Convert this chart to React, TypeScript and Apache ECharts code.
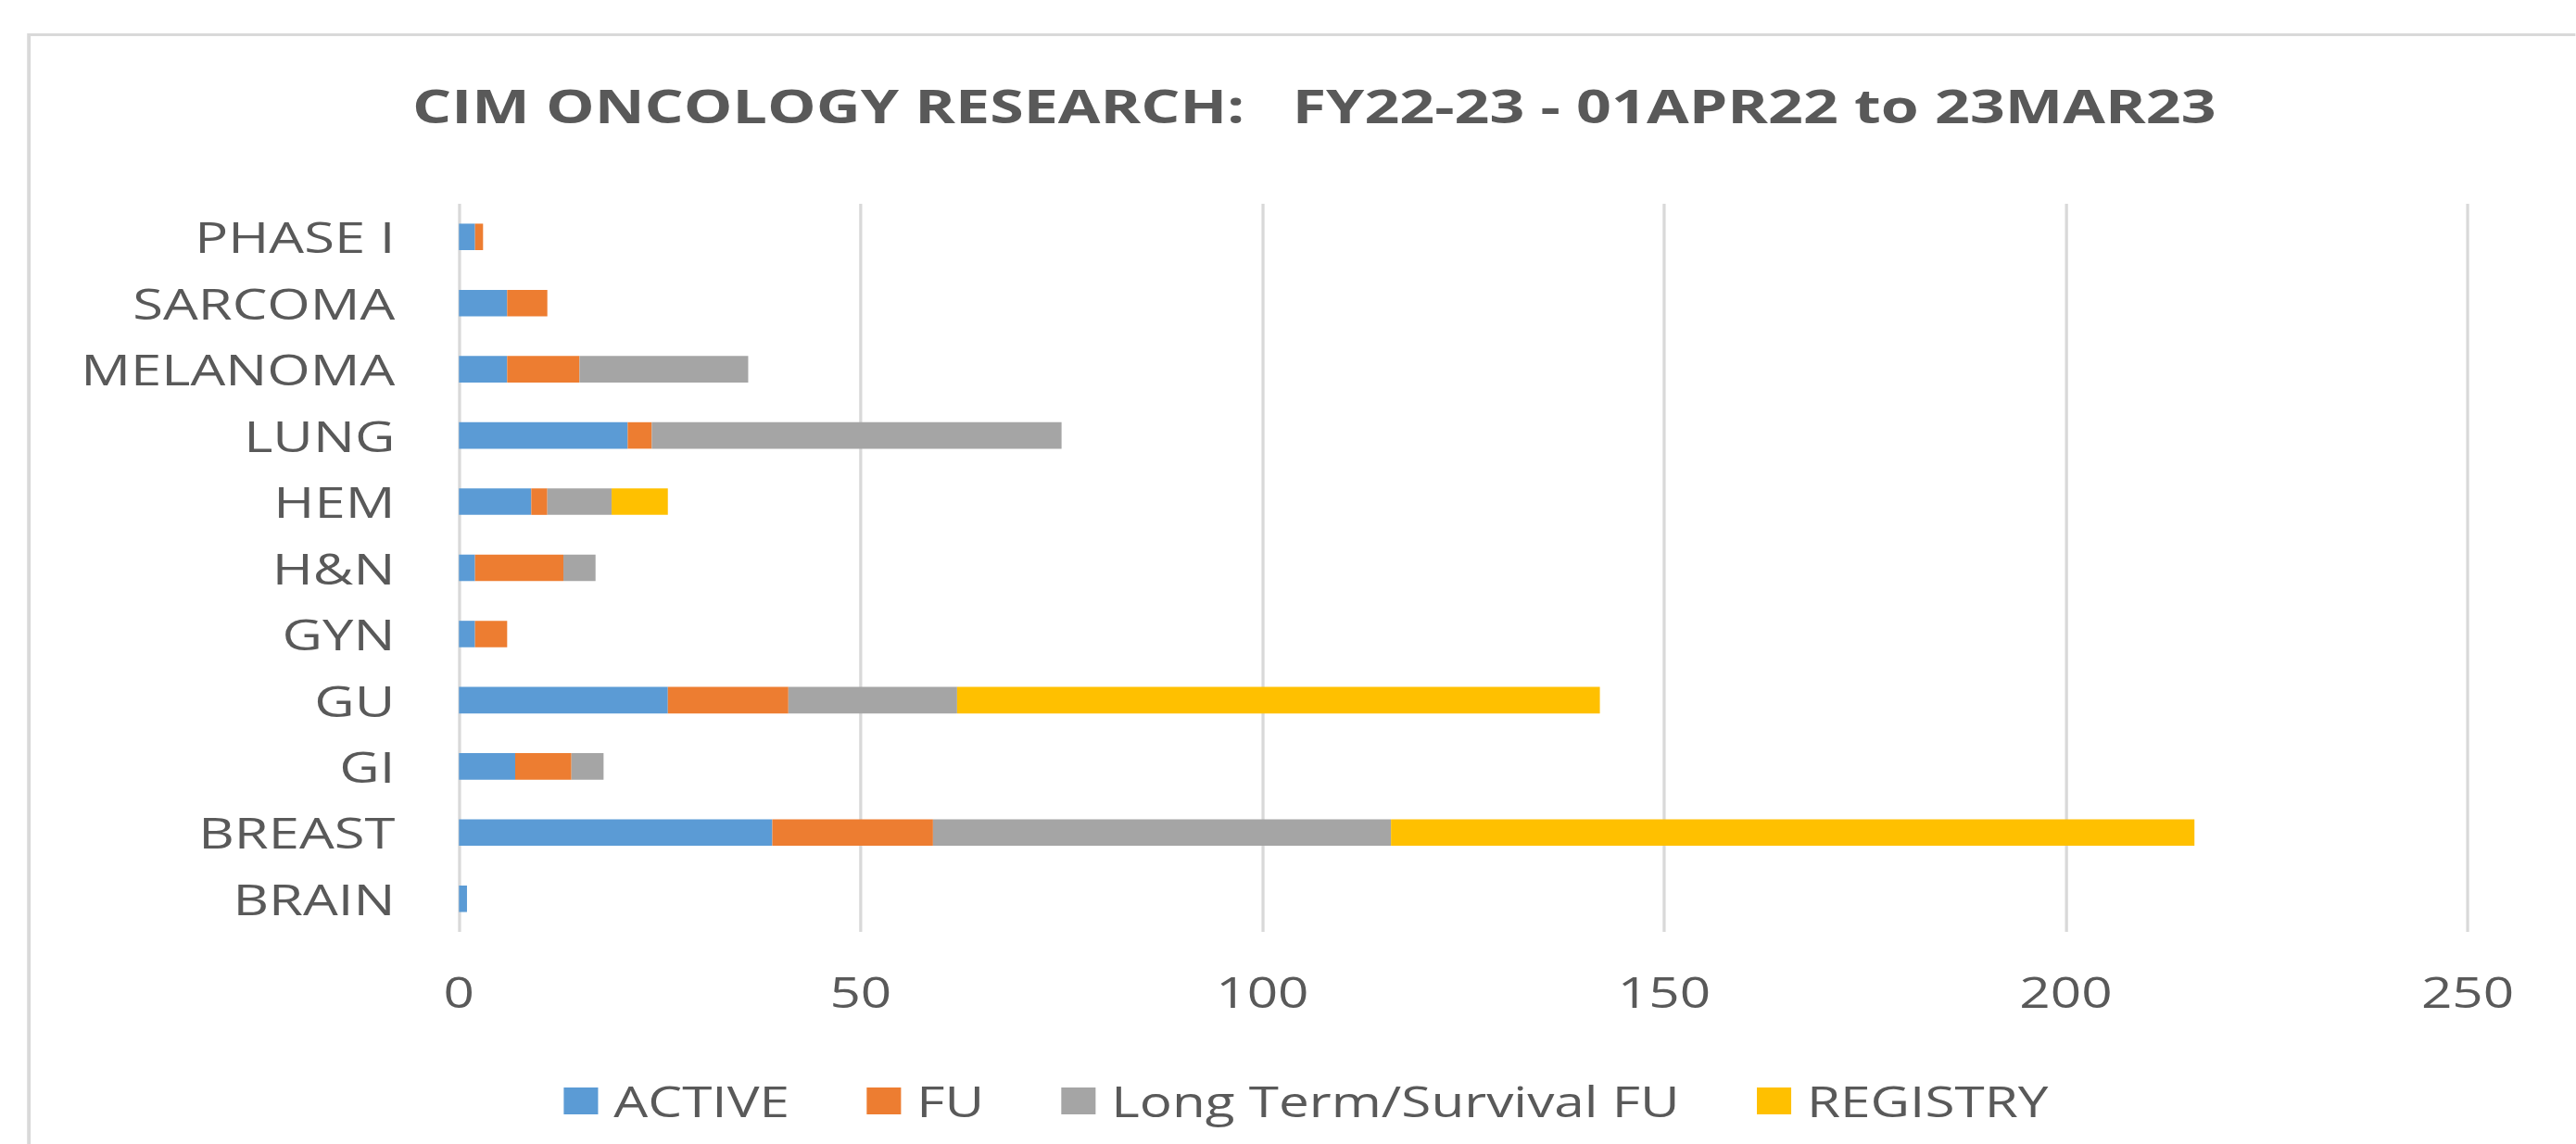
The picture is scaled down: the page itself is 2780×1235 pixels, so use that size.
import React, { useEffect, useRef } from "react";
import * as echarts from "echarts";

const categories = ["BRAIN", "BREAST", "GI", "GU", "GYN", "H&N", "HEM", "LUNG", "MELANOMA", "SARCOMA", "PHASE I"];
const activeValues = [1, 39, 7, 26, 2, 2, 9, 21, 6, 6, 2];
const fuValues = [0, 20, 7, 15, 4, 11, 2, 3, 9, 5, 1];
const longTermValues = [0, 57, 4, 21, 0, 4, 8, 51, 21, 0, 0];
const registryValues = [0, 100, 0, 80, 0, 0, 7, 0, 0, 0, 0];
const seriesNames = ["ACTIVE", "FU", "Long Term/Survival FU", "REGISTRY"];
const seriesColors = ["#5B9BD5", "#ED7D31", "#A5A5A5", "#FFC000"];
const titleText = "CIM ONCOLOGY RESEARCH:   FY22-23 - 01APR22 to 23MAR23";

const STRETCH = 1.3;
const W = 2138;
const H = 1235;
const FONT = "'Open Sans', sans-serif";
const TEXT_COLOR = "#595959";

export default function App() {
  const ref = useRef<HTMLDivElement>(null);
  useEffect(() => {
    if (!ref.current) return;
    const chart = echarts.init(ref.current, undefined, { renderer: "svg" });
    const allValues = [activeValues, fuValues, longTermValues, registryValues];
    chart.setOption({
      animation: false,
      backgroundColor: "#ffffff",
      title: {
        text: titleText,
        left: 1086,
        top: 83,
        textAlign: "center",
        textStyle: { fontFamily: FONT, fontSize: 51, fontWeight: "bold", color: TEXT_COLOR },
      },
      graphic: [
        {
          type: "rect",
          left: 21.5,
          top: 35,
          shape: { width: 2300, height: 1400 },
          style: { fill: "none", stroke: "#d9d9d9", lineWidth: 3 },
          silent: true,
          z: -1,
        },
      ],
      legend: {
        left: 463,
        top: 1161,
        icon: "rect",
        itemWidth: 28.5,
        itemHeight: 29,
        itemGap: 64,
        textStyle: { fontFamily: FONT, fontSize: 45, color: TEXT_COLOR, padding: [0, 0, 0, 8] },
        data: seriesNames,
      },
      grid: { left: 381, right: W - 2048.5, top: 220, bottom: H - 1006, containLabel: false },
      xAxis: {
        type: "value",
        min: 0,
        max: 250,
        interval: 50,
        axisLine: { show: false },
        axisTick: { show: false },
        splitLine: { show: true, lineStyle: { color: "#d9d9d9", width: 2.5 } },
        axisLabel: { fontFamily: FONT, fontSize: 45, color: TEXT_COLOR, margin: 42 },
      },
      yAxis: {
        type: "category",
        data: categories,
        axisLine: { show: false },
        axisTick: { show: false },
        axisLabel: { fontFamily: FONT, fontSize: 46, color: TEXT_COLOR, margin: 53 },
      },
      series: seriesNames.map((name, i) => ({
        name,
        type: "bar",
        stack: "total",
        barWidth: "40%",
        itemStyle: { color: seriesColors[i] },
        data: allValues[i],
      })),
    });
    return () => chart.dispose();
  }, []);
  return (
    <div style={{ position: "fixed", left: 0, top: 0, right: 0, bottom: 0, overflow: "hidden", background: "#fff" }}>
      <div
        ref={ref}
        style={{
          position: "absolute",
          left: 0,
          top: 0,
          width: W,
          height: H,
          transform: `scaleX(${STRETCH})`,
          transformOrigin: "0 0",
        }}
      />
    </div>
  );
}
